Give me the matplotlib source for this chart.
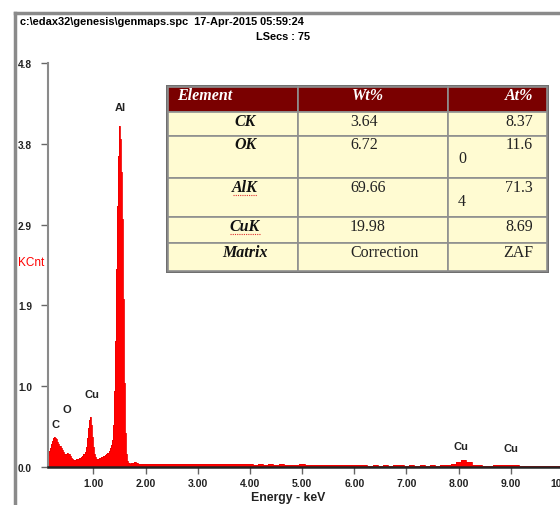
import matplotlib
matplotlib.use("Agg")
import matplotlib.pyplot as plt
from matplotlib.patches import Rectangle
from matplotlib.lines import Line2D

# ---------------- data ----------------
energy_low = [0.10, 0.12, 0.14, 0.16, 0.18, 0.20, 0.22, 0.24, 0.26, 0.28,
              0.30, 0.32, 0.34, 0.36, 0.38, 0.40, 0.42, 0.44, 0.46, 0.48,
              0.50, 0.52, 0.54, 0.56, 0.58, 0.60, 0.62, 0.64, 0.66, 0.68,
              0.70, 0.72, 0.74, 0.76, 0.78, 0.80, 0.82, 0.84, 0.86, 0.88,
              0.90, 0.92, 0.94, 0.96, 0.98, 1.00, 1.02, 1.04, 1.06, 1.08,
              1.10, 1.12, 1.14, 1.16, 1.18, 1.20, 1.22, 1.24, 1.26, 1.28,
              1.30, 1.32, 1.34, 1.36, 1.38, 1.40, 1.42, 1.44, 1.46, 1.48,
              1.50, 1.52, 1.54, 1.56, 1.58, 1.60, 1.62, 1.64, 1.66, 1.68,
              1.70, 1.72, 1.74, 1.76, 1.78, 1.80, 1.82, 1.84, 1.86, 1.88,
              1.90, 1.92, 1.94, 1.96, 1.98]
counts_low = [0.03, 0.08, 0.14, 0.19, 0.23, 0.27, 0.31, 0.34, 0.36, 0.35,
              0.33, 0.30, 0.27, 0.25, 0.23, 0.20, 0.18, 0.16, 0.15, 0.16,
              0.17, 0.16, 0.15, 0.13, 0.11, 0.09, 0.08, 0.08, 0.08, 0.09,
              0.09, 0.10, 0.11, 0.11, 0.12, 0.13, 0.15, 0.18, 0.24, 0.34,
              0.46, 0.56, 0.59, 0.50, 0.36, 0.24, 0.16, 0.12, 0.10, 0.10,
              0.10, 0.11, 0.11, 0.12, 0.12, 0.13, 0.13, 0.14, 0.15, 0.17,
              0.19, 0.22, 0.26, 0.32, 0.50, 0.90, 1.50, 2.35, 3.10, 3.70,
              4.05, 3.90, 3.50, 2.95, 2.00, 1.00, 0.40, 0.15, 0.07, 0.05,
              0.05, 0.04, 0.05, 0.05, 0.06, 0.06, 0.05, 0.05, 0.04, 0.04,
              0.04, 0.04, 0.04, 0.04, 0.04]
energy_high = [2.0, 2.1, 2.2, 2.3, 2.4, 2.5, 2.6, 2.7, 2.8, 2.9,
               3.0, 3.1, 3.2, 3.3, 3.4, 3.5, 3.6, 3.7, 3.8, 3.9,
               4.0, 4.1, 4.2, 4.3, 4.4, 4.5, 4.6, 4.7, 4.8, 4.9,
               5.0, 5.1, 5.2, 5.3, 5.4, 5.5, 5.6, 5.7, 5.8, 5.9,
               6.0, 6.1, 6.2, 6.3, 6.4, 6.5, 6.6, 6.7, 6.8, 6.9,
               7.0, 7.1, 7.2, 7.3, 7.4, 7.5, 7.6, 7.7, 7.8, 7.9,
               8.0, 8.1, 8.2, 8.3, 8.4, 8.5, 8.6, 8.7, 8.8, 8.9,
               9.0, 9.1, 9.2, 9.3, 9.4, 9.5, 9.6, 9.7, 9.8, 9.9,
               10.0, 10.1, 10.2]
counts_high = [0.040, 0.035, 0.040, 0.035, 0.040, 0.035, 0.040, 0.035, 0.040, 0.035,
               0.040, 0.035, 0.040, 0.035, 0.040, 0.030, 0.035, 0.030, 0.030, 0.030,
               0.035, 0.025, 0.030, 0.025, 0.030, 0.025, 0.035, 0.025, 0.025, 0.025,
               0.030, 0.020, 0.025, 0.020, 0.025, 0.020, 0.020, 0.020, 0.025, 0.020,
               0.020, 0.020, 0.020, 0.015, 0.020, 0.015, 0.020, 0.015, 0.020, 0.020,
               0.015, 0.020, 0.015, 0.020, 0.015, 0.020, 0.015, 0.020, 0.020, 0.030,
               0.060, 0.085, 0.055, 0.025, 0.020, 0.015, 0.015, 0.020, 0.020, 0.025,
               0.025, 0.020, 0.015, 0.015, 0.010, 0.015, 0.010, 0.015, 0.010, 0.015,
               0.010, 0.015, 0.010]

peak_labels = ["C", "O", "Cu", "Al", "Cu", "Cu"]
peak_label_x = [0.27, 0.50, 0.98, 1.51, 8.05, 9.00]
peak_label_y = [0.51, 0.69, 0.87, 4.28, 0.25, 0.23]

y_ticks = [0.0, 0.96, 1.92, 2.88, 3.84, 4.8]
y_tick_labels = ["0.0", "1.0", "1.9", "2.9", "3.8", "4.8"]
x_ticks = [1, 2, 3, 4, 5, 6, 7, 8, 9, 10]
x_tick_labels = ["1.00", "2.00", "3.00", "4.00", "5.00", "6.00", "7.00", "8.00", "9.00", "10.00"]

table_header = ["Element", "Wt%", "At%"]
table_elements = ["CK", "OK", "AlK", "CuK", "Matrix"]
table_wt = ["3.64", "6.72", "69.66", "19.98", "Correction"]
table_at = ["8.37", "11.6", "71.3", "8.69", "ZAF"]
table_at_wrap = ["", "0", "4", "", ""]

title_text = "c:\\edax32\\genesis\\genmaps.spc  17-Apr-2015 05:59:24"
lsecs_text = "LSecs : 75"

# ---------------- figure ----------------
W, H = 560, 506
fig = plt.figure(figsize=(W / 100, H / 100), dpi=100)
fig.patch.set_facecolor("white")

def fx(px):
    return px / W

def fy(py):
    return 1 - py / H

# outer frame
fig.add_artist(Line2D([fx(15), fx(560)], [fy(14), fy(14)], color="#8a8a8a", lw=2.5))
fig.add_artist(Line2D([fx(15), fx(15)], [fy(14), fy(506)], color="#8a8a8a", lw=2.5))

sans = "Liberation Sans"
fig.text(fx(20), fy(22), title_text, fontsize=7.9, fontweight="bold",
         family=sans, va="center", ha="left")
fig.text(fx(310), fy(37), lsecs_text, fontsize=7.9, fontweight="bold",
         family=sans, va="center", ha="right")

# axes
left_px, right_px, top_px, bot_px = 48, 575, 64, 468
ax = fig.add_axes([fx(left_px), 1 - bot_px / H, (right_px - left_px) / W, (bot_px - top_px) / H])
ax.set_xlim(0.13, 10.23)
ax.set_ylim(0, 4.8)

energy = energy_low + energy_high
counts = counts_low + counts_high
ax.fill_between(energy, counts, 0, step="mid", color="#ff0000", lw=0)
ax.step(energy, counts, where="mid", color="#ee0000", lw=0.6)

for lab, x, y in zip(peak_labels, peak_label_x, peak_label_y):
    ax.text(x, y, lab, fontsize=8, fontweight="bold", family=sans,
            ha="center", va="center", color="#222222")

for s in ["top", "right"]:
    ax.spines[s].set_visible(False)
ax.spines["left"].set_color("#8a8a8a")
ax.spines["left"].set_linewidth(1.5)
ax.spines["bottom"].set_color("#222222")
ax.spines["bottom"].set_linewidth(1.8)

ax.set_yticks(y_ticks)
ax.set_yticklabels(y_tick_labels)
ax.set_xticks(x_ticks)
ax.set_xticklabels(x_tick_labels)
ax.tick_params(axis="y", direction="out", length=5, width=1, color="#666666",
               labelsize=7.3, pad=2)
ax.tick_params(axis="x", direction="out", length=5, width=1, color="#666666",
               labelsize=7.5, pad=3)
for t in ax.get_yticklabels() + ax.get_xticklabels():
    t.set_fontweight("bold")
    t.set_family(sans)
    t.set_color("#222222")
for t in ax.get_yticklabels():
    t.set_horizontalalignment("left")
    t.set_x(-(left_px - 18) / (right_px - left_px))
    t.set_transform(ax.get_yaxis_transform())

fig.text(fx(18), fy(263), "KCnt", color="#ff0000", fontsize=8.5, family=sans,
         ha="left", va="center")
fig.text(fx(288), fy(498), "Energy - keV", fontsize=8.8, fontweight="bold",
         family=sans, ha="center", va="center", color="#222222")

# ---------------- table ----------------
col_edges = [168, 298, 448, 547]
row_edges = [88, 113, 137, 179, 218, 244, 272]
header_color = "#7a0000"
cell_color = "#fffbd2"
line_color = "#8f8f8f"

fig.add_artist(Rectangle((fx(col_edges[0] - 2), fy(row_edges[-1] + 2)),
                         fx(col_edges[-1] - col_edges[0] + 4),
                         (row_edges[-1] - row_edges[0] + 4) / H,
                         facecolor="#6f6f6f", edgecolor="none"))
for r in range(len(row_edges) - 1):
    color = header_color if r == 0 else cell_color
    for c in range(3):
        x0, x1 = col_edges[c], col_edges[c + 1]
        y0, y1 = row_edges[r], row_edges[r + 1]
        fig.add_artist(Rectangle((fx(x0), fy(y1)), fx(x1 - x0), (y1 - y0) / H,
                                 facecolor=color, edgecolor=line_color, lw=1.2))

serif = "Liberation Serif"
fs = 11.5
hy = 96
fig.text(fx(177), fy(hy), table_header[0], color="white", fontsize=fs,
         style="italic", fontweight="bold", family=serif, ha="left", va="center")
fig.text(fx(352), fy(hy), table_header[1], color="white", fontsize=fs,
         style="italic", fontweight="bold", family=serif, ha="left", va="center")
fig.text(fx(533), fy(hy), table_header[2], color="white", fontsize=fs,
         style="italic", fontweight="bold", family=serif, ha="right", va="center")

text_offsets = [9, 8, 9, 9, 9]
for i in range(len(table_elements)):
    ytop = row_edges[i + 1] + text_offsets[i]
    fig.text(fx(245), fy(ytop), table_elements[i], fontsize=fs, style="italic",
             fontweight="bold", family=serif, ha="center", va="center", color="#111111")
    fig.text(fx(350), fy(ytop), table_wt[i], fontsize=fs, family=serif,
             ha="left", va="center", color="#222222")
    fig.text(fx(533), fy(ytop), table_at[i], fontsize=fs, family=serif,
             ha="right", va="center", color="#222222")
    if table_at_wrap[i]:
        fig.text(fx(458), fy(ytop + 14), table_at_wrap[i], fontsize=fs, family=serif,
                 ha="left", va="center", color="#222222")
    if table_elements[i] in ("AlK", "CuK"):
        w = 24 if table_elements[i] == "AlK" else 30
        fig.add_artist(Line2D([fx(245 - w / 2), fx(245 + w / 2)], [fy(ytop + 8), fy(ytop + 8)],
                              color="#e03030", lw=0.8, ls=(0, (1, 1))))

fig.savefig("out.png", dpi=100, facecolor="white")
